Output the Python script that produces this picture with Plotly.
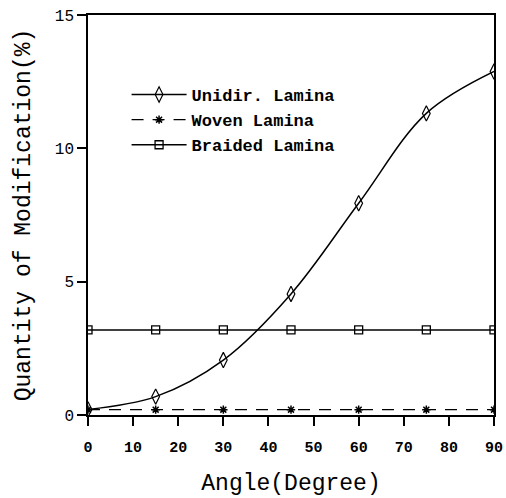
import plotly.graph_objects as go

angles = [0, 15, 30, 45, 60, 75, 90]
unidir = [0.21, 0.69, 2.06, 4.54, 7.94, 11.31, 12.88]
woven = [0.2, 0.2, 0.2, 0.2, 0.2, 0.2, 0.2]
braided = [3.19, 3.19, 3.19, 3.19, 3.19, 3.19, 3.19]
x_ticks = [0, 10, 20, 30, 40, 50, 60, 70, 80, 90]
y_ticks = [0, 5, 10, 15]

MONO = "Liberation Mono"

fig = go.Figure()
fig.add_trace(go.Scatter(
    x=angles, y=unidir, name="Unidir. Lamina", mode="lines+markers",
    line=dict(color="black", width=1.5, shape="spline", smoothing=1.0),
    marker=dict(symbol="diamond-tall-open", size=11, color="black", line=dict(width=1.2)),
))
fig.add_trace(go.Scatter(
    x=angles, y=woven, name="Woven Lamina", mode="lines+markers",
    line=dict(color="black", width=1.3, dash="12px,9px"),
    marker=dict(symbol="asterisk-open", size=7, color="black", line=dict(width=1.5)),
))
fig.add_trace(go.Scatter(
    x=angles, y=braided, name="Braided Lamina", mode="lines+markers",
    line=dict(color="black", width=1.5),
    marker=dict(symbol="square-open", size=8, color="black", line=dict(width=1.3)),
))

fig.update_layout(
    width=506, height=498,
    margin=dict(l=88, r=12, t=15, b=83),
    paper_bgcolor="white", plot_bgcolor="white",
    showlegend=True,
    legend=dict(
        x=0.095, y=0.845, xanchor="left", yanchor="top",
        bgcolor="rgba(0,0,0,0)",
        font=dict(family=MONO, size=17, color="black", weight="bold"),
        itemwidth=55, tracegroupgap=0,
    ),
    font=dict(family=MONO, color="black"),
)
fig.update_xaxes(
    range=[0, 90], tickvals=x_ticks, ticktext=[str(v) for v in x_ticks],
    automargin=False,
    showline=True, linecolor="black", linewidth=1.5, mirror=True,
    ticks="outside", ticklen=9, tickwidth=1.5, tickcolor="black",
    ticklabelstandoff=8,
    showgrid=False, zeroline=False,
    tickfont=dict(family=MONO, size=15, color="black", weight="bold"),
    title=dict(text="Angle(Degree)", font=dict(family=MONO, size=23, color="black"), standoff=18),
)
fig.update_yaxes(
    range=[0, 15], tickvals=y_ticks, ticktext=[str(v) for v in y_ticks],
    automargin=False,
    showline=True, linecolor="black", linewidth=1.5, mirror=True,
    ticks="outside", ticklen=9, tickwidth=1.5, tickcolor="black",
    showgrid=False, zeroline=False,
    tickfont=dict(family=MONO, size=16, color="black"),
    title=dict(text="Quantity of Modification(%)", font=dict(family=MONO, size=23, color="black"), standoff=18),
)

fig.write_html("out.html")
